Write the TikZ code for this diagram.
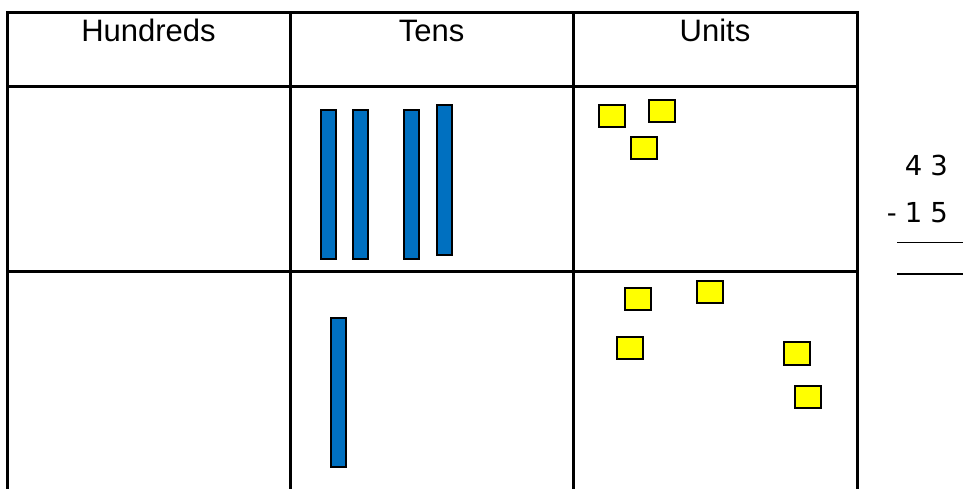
\documentclass[tikz,border=0pt]{standalone}
\usepackage{fontspec}
\setmainfont{Liberation Sans}
\newfontfamily\sumfont{DejaVu Sans}
\definecolor{rodblue}{RGB}{0,112,192}
\definecolor{unityellow}{RGB}{255,255,0}
\newcommand{\widegaps}{\spaceskip=8pt\relax}
\begin{document}
\begin{tikzpicture}[x=1pt,y=-1pt,
  grid/.style={line width=3pt,line cap=rect},
  rod/.style={draw=black,fill=rodblue,line width=2pt},
  unit/.style={draw=black,fill=unityellow,line width=2pt},
  heading/.style={anchor=base,inner sep=0pt,font=\fontsize{31}{36}\selectfont},
  sum/.style={anchor=base east,inner sep=0pt,font=\sumfont\fontsize{27.5}{32}\selectfont},
  rule/.style={line width=1.5pt}]
\useasboundingbox (0,0) rectangle (963,488);

% place-value table (open at the bottom)
\draw[grid] (7,12) -- (857,12);
\draw[grid] (7,86) -- (857,86);
\draw[grid] (7,271) -- (857,271);
\begin{scope}
  \clip (0,0) rectangle (963,488);
  \foreach \cx in {7,290,573,857}
    \draw[grid] (\cx,12) -- (\cx,492);
\end{scope}

% column headings
\node[heading] (hundreds) at (148.5,41) {Hundreds};
\node[heading] (tens) at (431.5,41) {Tens};
\node[heading] (units) at (715,41) {Units};

% tens rods, first row
\draw[rod] (320.5,109.5) rectangle (335.5,258.5);
\draw[rod] (352.5,109.5) rectangle (367.5,258.5);
\draw[rod] (403.5,109.5) rectangle (418.5,258.5);
\draw[rod] (436.5,105) rectangle (451.5,254.5);

% tens rod, second row
\draw[rod] (330.5,317.5) rectangle (345.5,467);

% unit cubes, first row
\draw[unit] (599,105) rectangle (625,127);
\draw[unit] (649,100) rectangle (675,122);
\draw[unit] (631,137) rectangle (657,159);

% unit cubes, second row
\draw[unit] (625,287.5) rectangle (651,309.5);
\draw[unit] (697,280.5) rectangle (723,302.5);
\draw[unit] (617,336.5) rectangle (643,358.5);
\draw[unit] (783.5,342) rectangle (809.5,364.5);
\draw[unit] (795,385.5) rectangle (821,407.5);

% written subtraction
\node[sum] (top) at (948,175) {\widegaps 4 3};
\node[sum] (bottom) at (948,222) {\widegaps - 1 5};
\draw[rule] (897,242.5) -- (963,242.5);
\draw[rule] (897,274) -- (963,274);
\end{tikzpicture}
\end{document}
